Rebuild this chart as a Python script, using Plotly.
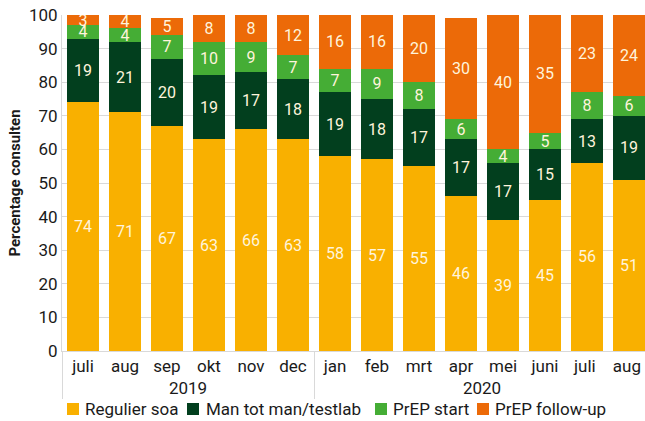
import plotly.graph_objects as go

years = ["2019"] * 6 + ["2020"] * 8
months = ["juli", "aug", "sep", "okt", "nov", "dec", "jan", "feb", "mrt", "apr", "mei", "juni", "juli ", "aug "]
regulier = [74, 71, 67, 63, 66, 63, 58, 57, 55, 46, 39, 45, 56, 51]
mtm = [19, 21, 20, 19, 17, 18, 19, 18, 17, 17, 17, 15, 13, 19]
prep_start = [4, 4, 7, 10, 9, 7, 7, 9, 8, 6, 4, 5, 8, 6]
prep_fu = [3, 4, 5, 8, 8, 12, 16, 16, 20, 30, 40, 35, 23, 24]

series_names = ["Regulier soa", "Man tot man/testlab", "PrEP start", "PrEP follow-up"]
series_values = [regulier, mtm, prep_start, prep_fu]
series_colors = ["#F9B000", "#023F1E", "#45AD35", "#EC6A08"]

FONT = "Roboto, Lato, sans-serif"
W, H = 650, 421
ML, MR, MT, MB = 62, 0, 15, 70
PW, PH = W - ML - MR, H - MT - MB

fig = go.Figure()
for name, vals, col in zip(series_names, series_values, series_colors):
    fig.add_trace(go.Bar(
        x=[years, months], y=vals, name=name,
        marker=dict(color=col, line=dict(width=0)),
        text=vals, texttemplate="%{y:.0f}", textposition="inside",
        insidetextanchor="middle", textangle=0, constraintext="none",
        textfont=dict(color="#FFF4DC", size=16, family=FONT),
        hoverinfo="skip",
    ))

# legend drawn as squares + labels below the chart (pixel layout -> paper coords)
leg_square_px = [67, 187, 375, 477]
leg_text_px = [83, 204, 391, 493]
leg_y_px = 409
shapes, annots = [], []
for sx, tx, name, col in zip(leg_square_px, leg_text_px, series_names, series_colors):
    shapes.append(dict(type="rect", xref="paper", yref="paper",
                       x0=(sx - ML) / PW, x1=(sx + 12 - ML) / PW,
                       y0=(MT + PH - (leg_y_px - 6)) / PH, y1=(MT + PH - (leg_y_px + 6)) / PH,
                       fillcolor=col, line=dict(width=0)))
    annots.append(dict(xref="paper", yref="paper", x=(tx - ML) / PW,
                       y=(MT + PH - leg_y_px) / PH, text=name, showarrow=False,
                       xanchor="left", yanchor="middle",
                       font=dict(size=17, family=FONT, color="#1a1a1a")))

fig.update_layout(
    barmode="stack",
    bargap=0.24,
    width=W, height=H,
    margin=dict(l=ML, r=MR, t=MT, b=MB),
    plot_bgcolor="white", paper_bgcolor="white",
    font=dict(family=FONT, size=17, color="#1a1a1a"),
    showlegend=False,
    shapes=shapes,
    annotations=annots,
)
fig.update_yaxes(range=[0, 100], dtick=10, showgrid=True, gridcolor="#D9D9D9",
                 showline=True, linecolor="#D9D9D9", ticks="", zeroline=False,
                 automargin=False, ticklabeloverflow="allow",
                 title=dict(text="<b>Percentage consulten</b>", font=dict(size=15), standoff=4),
                 tickfont=dict(size=17))
fig.update_xaxes(showline=True, linecolor="#D9D9D9", tickfont=dict(size=17),
                 automargin=False,
                 dividercolor="#D9D9D9", dividerwidth=1, showdividers=True)

fig.write_html(
    "out.html",
    config={"displayModeBar": False},
    post_script="document.body.style.margin='0px';document.body.style.overflow='hidden';",
)
